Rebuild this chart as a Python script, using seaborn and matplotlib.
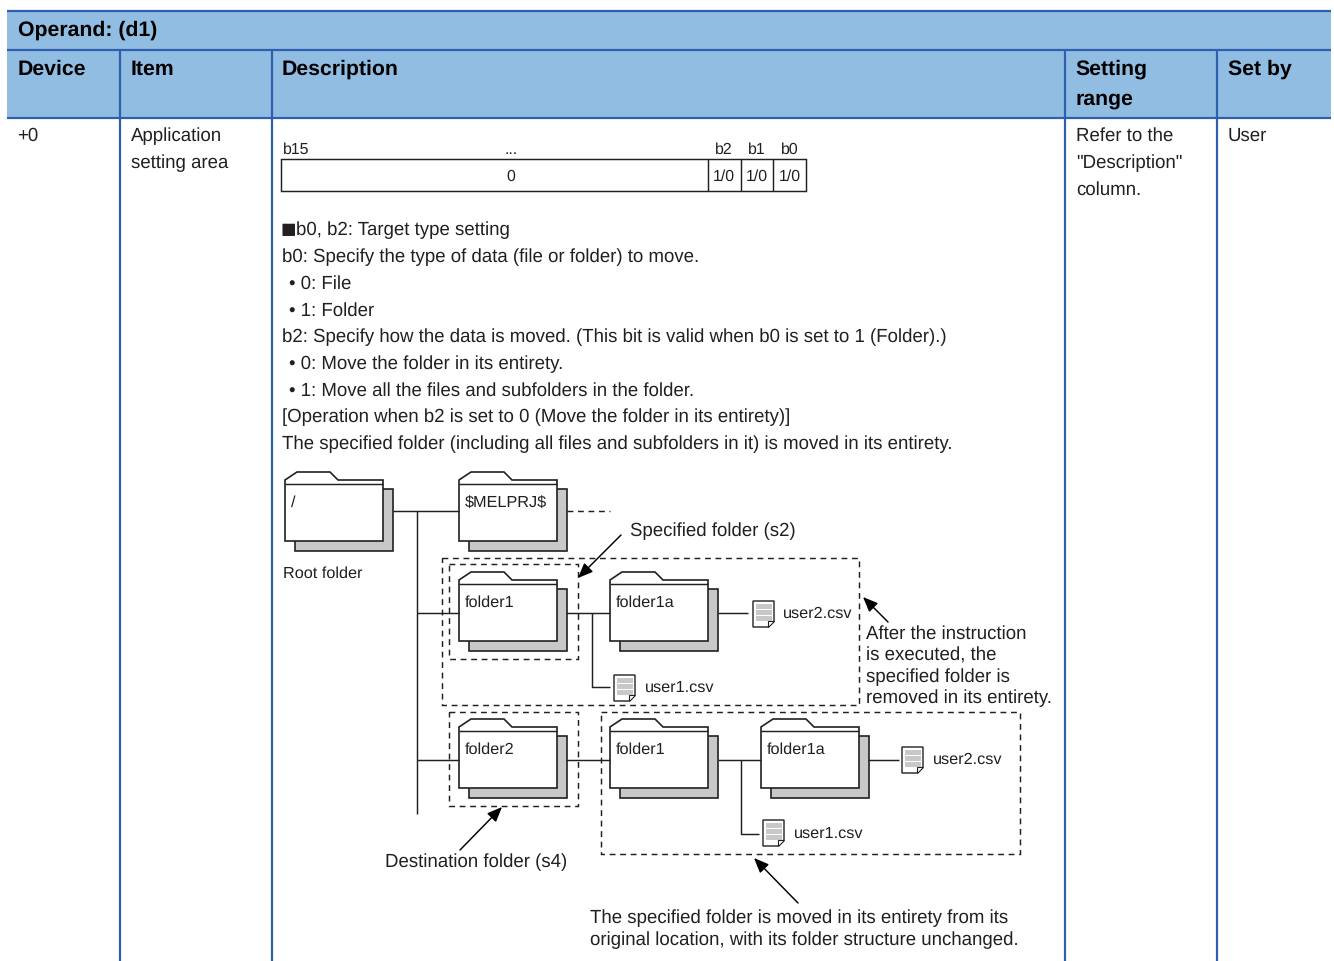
import matplotlib
matplotlib.use('Agg')
import matplotlib.pyplot as plt
from matplotlib.patches import Rectangle, Polygon
import seaborn as sns


# Operand table with the folder move diagram, drawn in pixel coordinates

operand_title = 'Operand: (d1)'
headers = ['Device', 'Item', 'Description', 'Setting\nrange', 'Set by']
device_cell = '+0'
item_lines = ['Application', 'setting area']
range_lines = ['Refer to the', '"Description"', 'column.']
user_cell = 'User'
desc_lines = ['b0, b2: Target type setting',
              'b0: Specify the type of data (file or folder) to move.',
              '• 0: File',
              '• 1: Folder',
              'b2: Specify how the data is moved. (This bit is valid when b0 is set to 1 (Folder).)',
              '• 0: Move the folder in its entirety.',
              '• 1: Move all the files and subfolders in the folder.',
              '[Operation when b2 is set to 0 (Move the folder in its entirety)]',
              'The specified folder (including all files and subfolders in it) is moved in its entirety.']
bit_names = ['b2', 'b1', 'b0']
bit_values = ['1/0', '1/0', '1/0']
after_lines = ['After the instruction', 'is executed, the', 'specified folder is', 'removed in its entirety.']
moved_lines = ['The specified folder is moved in its entirety from its',
               'original location, with its folder structure unchanged.']

BLUE = '#92BDE3'
EDGE = '#2F5FAF'
INK = '#231F20'
GRAY = '#C6C8CA'
FONT = ['Liberation Sans', 'DejaVu Sans']
DASH = (0, (4, 3.2))
RIGHT = 1331


def line(ax, xs, ys, ls='-', lw=1.05, color=INK, z=3):
    ax.plot(xs, ys, color=color, lw=lw, ls=ls, zorder=z, solid_capstyle='butt')


def txt(ax, x, y, s, size=13.45, weight='normal', ha='left', family=FONT):
    # y is the middle of the lower case letters, the baseline sits below it
    ax.text(x, y + size * 0.49 - 0.5, s, fontsize=size, fontweight=weight, ha=ha, va='baseline',
            color=INK if weight == 'normal' else 'black', family=family, zorder=6)


def dash_box(ax, x0, y0, x1, y1):
    ax.add_patch(Rectangle((x0, y0), x1 - x0, y1 - y0, fill=False, ec=INK, lw=1.05,
                           ls=DASH, zorder=5))


def folder(ax, x, y, label=None):
    ax.add_patch(Rectangle((x + 10, y + 17), 98, 62, fc=GRAY, ec=INK, lw=1.2, zorder=2))
    ax.add_patch(Polygon([(x, y + 8), (x + 12, y), (x + 45, y), (x + 53, y + 8), (x + 98, y + 8),
                          (x + 98, y + 69), (x, y + 69)], fc='white', ec=INK, lw=1.2, zorder=3))
    line(ax, [x, x + 98], [y + 12, y + 12], z=4)
    if label:
        txt(ax, x + 6, y + 30, label, size=11.7)


def file_icon(ax, x, y):
    ax.add_patch(Polygon([(x, y), (x + 21, y), (x + 21, y + 20), (x + 15, y + 26), (x, y + 26)],
                         fc='white', ec=INK, lw=1.0, zorder=3))
    for k in (3, 9, 15):
        ax.add_patch(Rectangle((x + 2.5, y + k), 16, 5, fc=GRAY, ec='none', zorder=4))
    ax.add_patch(Polygon([(x + 15, y + 26), (x + 15, y + 20), (x + 21, y + 20)],
                         fc='white', ec=INK, lw=0.8, zorder=4))


def arrow(ax, start, end):
    ax.annotate('', xy=end, xytext=start,
                arrowprops=dict(arrowstyle='-|>,head_length=0.6,head_width=0.25', color='black',
                                lw=1.05, mutation_scale=15, shrinkA=0, shrinkB=0), zorder=6)


def plot():
    sns.set_theme(style='white')
    plt.rcParams['font.family'] = FONT
    plt.rcParams['text.hinting'] = 'none'
    plt.rcParams['text.hinting_factor'] = 8

    fig = plt.figure(figsize=(13.34, 9.61), dpi=100)
    ax = fig.add_axes([0, 0, 1, 1])
    ax.set_xlim(0, 1334)
    ax.set_ylim(961, 0)
    ax.axis('off')
    sns.despine(ax=ax, left=True, bottom=True)

    # table frame
    ax.add_patch(Rectangle((7, 11), RIGHT - 7, 107, fc=BLUE, ec='none', zorder=1))
    for y in (11, 50, 118):
        line(ax, [7, RIGHT], [y, y], lw=1.6, color=EDGE)
    col_x = [120, 272, 1065, 1217]
    for x in col_x:
        line(ax, [x, x], [50, 961], lw=1.6, color=EDGE)

    txt(ax, 17.5, 29, operand_title, size=15.3, weight='bold')
    head_x = [17.5, 130.5, 282, 1075.5, 1227.5]
    for x, h in zip(head_x, headers):
        for i, part in enumerate(h.split('\n')):
            txt(ax, x, 68 + i * 30, part, size=15.3, weight='bold')

    txt(ax, 17.5, 135, device_cell)
    for i, s in enumerate(item_lines):
        txt(ax, 131, 135 + i * 27, s)
    for i, s in enumerate(range_lines):
        txt(ax, 1076, 135 + i * 27, s)
    txt(ax, 1228, 135, user_cell)

    # bit layout
    ax.add_patch(Rectangle((281, 159), 525, 32, fill=False, ec=INK, lw=1.05, zorder=3))
    for x in (708, 741, 773):
        line(ax, [x, x], [159, 191])
    txt(ax, 283, 149, 'b15', size=11.4)
    txt(ax, 511, 149, '...', size=11.4, ha='center')
    txt(ax, 511, 176, '0', size=11.4, ha='center')
    for x, n, v in zip((724, 757, 790), bit_names, bit_values):
        txt(ax, x, 149, n, size=11.4, ha='center')
        txt(ax, x, 176, v, size=11.4, ha='center')

    # description lines, the first carries a square mark and bullets are indented
    txt(ax, 281, 229, '■', size=11.8, family=['DejaVu Sans'])
    for i, s in enumerate(desc_lines):
        x = 296 if i == 0 else 289 if s.startswith('•') else 282
        txt(ax, x, 229 + i * 26.78, s)

    # folder tree
    folder(ax, 285, 472, '/')
    folder(ax, 459, 472, r'\$MELPRJ\$')
    folder(ax, 459, 572, 'folder1')
    folder(ax, 610, 572, 'folder1a')
    folder(ax, 459, 719, 'folder2')
    folder(ax, 610, 719, 'folder1')
    folder(ax, 761, 719, 'folder1a')

    line(ax, [393, 459], [511, 511])
    line(ax, [417, 417], [511, 814])
    line(ax, [567, 610], [511, 511], ls=DASH)
    line(ax, [417, 459], [613, 613])
    line(ax, [566, 610], [613, 613])
    line(ax, [592, 592, 610], [613, 687, 687])
    line(ax, [718, 748], [613, 613])
    line(ax, [417, 459], [760, 760])
    line(ax, [566, 610], [760, 760])
    line(ax, [718, 761], [760, 760])
    line(ax, [741, 741, 759], [760, 834, 834])
    line(ax, [868, 899], [760, 760])

    dash_box(ax, 442, 558, 859, 705)
    dash_box(ax, 449, 564, 578, 659)
    dash_box(ax, 449, 712, 578, 806)
    dash_box(ax, 601, 712, 1020, 854)

    file_icon(ax, 753, 601)
    file_icon(ax, 614, 675)
    file_icon(ax, 902, 747)
    file_icon(ax, 763, 820)
    txt(ax, 783, 613, 'user2.csv', size=11.7)
    txt(ax, 645, 687, 'user1.csv', size=11.7)
    txt(ax, 933, 759, 'user2.csv', size=11.7)
    txt(ax, 794, 833, 'user1.csv', size=11.7)
    txt(ax, 283, 573, 'Root folder', size=11.7)

    arrow(ax, (621, 535), (578, 578))
    arrow(ax, (888, 622), (863, 597))
    arrow(ax, (460, 850), (502, 807))
    arrow(ax, (798, 903), (754, 858))

    txt(ax, 630, 530, 'Specified folder (s2)', size=13.45)
    txt(ax, 385, 861, 'Destination folder (s4)', size=13.45)
    for i, s in enumerate(after_lines):
        txt(ax, 866, 633 + i * 21.3, s, size=13.45)
    for i, s in enumerate(moved_lines):
        txt(ax, 590, 917 + i * 22, s, size=13.45)

    fig.savefig('out.png', dpi=100)


if __name__ == "__main__":

    plot()
